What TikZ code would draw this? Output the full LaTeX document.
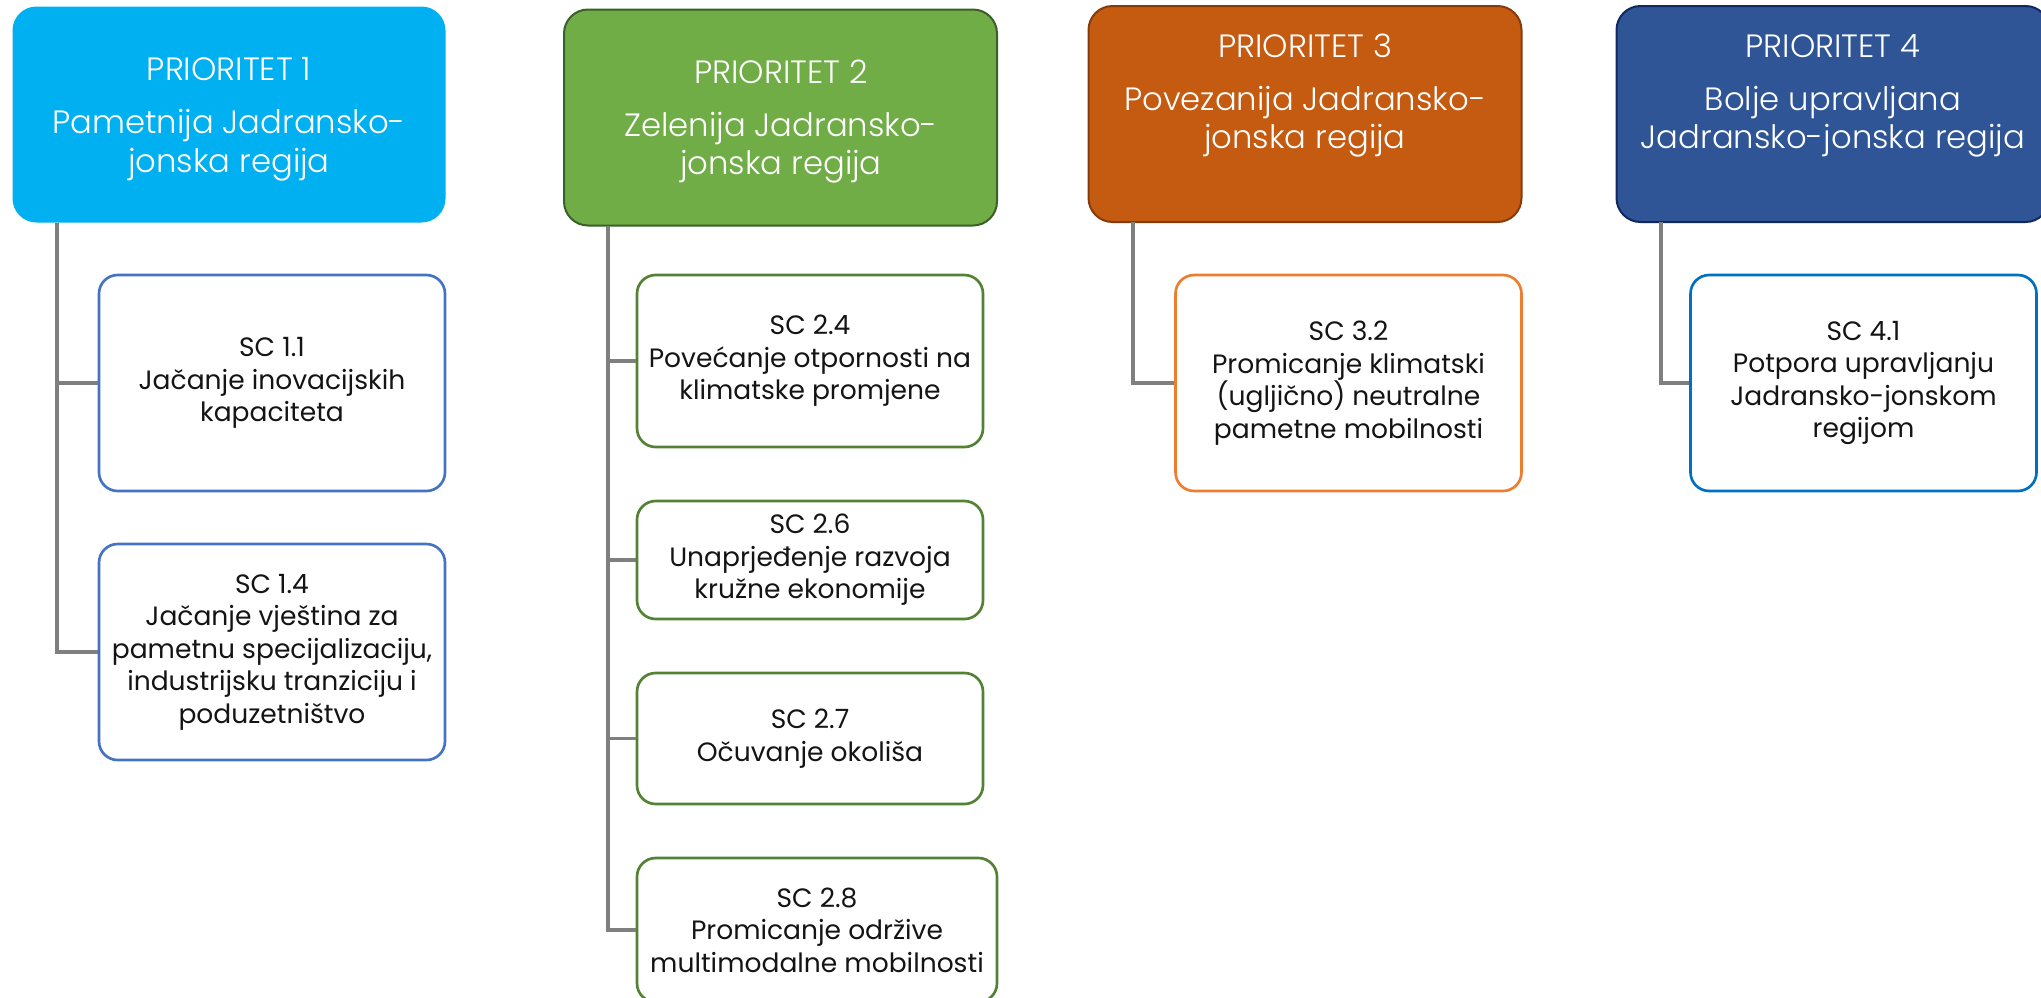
\documentclass[tikz,border=0pt]{standalone}
\usepackage{fontspec}
\setmainfont{Poppins}
\newfontfamily\titlefont{Poppins}[UprightFont=* Light]
\definecolor{pone}{HTML}{00B0F0}
\definecolor{ptwo}{HTML}{70AD47}
\definecolor{ptwoB}{HTML}{3A5F28}
\definecolor{pthree}{HTML}{C55A11}
\definecolor{pthreeB}{HTML}{843C0C}
\definecolor{pfour}{HTML}{2F5597}
\definecolor{pfourB}{HTML}{10275F}
\definecolor{sone}{HTML}{4472C4}
\definecolor{stwo}{HTML}{548235}
\definecolor{sthree}{HTML}{ED7D31}
\definecolor{sfour}{HTML}{0070C0}
\definecolor{conngray}{HTML}{7F7F7F}
\definecolor{txt}{HTML}{141414}
\begin{document}
\begin{tikzpicture}[x=0.75pt,y=-0.75pt,
  prio/.style={line width=1.5pt, rounded corners=18pt, minimum width=324.75pt, minimum height=162pt, inner sep=0pt},
  scbox/.style={draw, fill=white, line width=2pt, rounded corners=14pt, minimum width=259.5pt, inner sep=0pt, align=center, text=txt, font=\fontsize{19.9pt}{24.4pt}\selectfont},
  ttl/.style={anchor=base, text=white, inner sep=0pt, font=\titlefont\fontsize{24.2pt}{29pt}\selectfont},
  conn/.style={draw=conngray, line width=2.4pt}]
\useasboundingbox (0,0) rectangle (2041,997);

% priority boxes
\node[prio, fill=pone] (P1) at (229,114.5) {};
\node[prio, fill=ptwo, draw=ptwoB] (P2) at (780.5,117.5) {};
\node[prio, fill=pthree, draw=pthreeB] (P3) at (1305,114) {};
\node[prio, fill=pfour, draw=pfourB] (P4) at (1833,114) {};

% titles
\node[ttl] (t1a) at (229,80) {PRIORITET 1};
\node[ttl] (t1b) at (229,133) {Pametnija Jadransko-};
\node[ttl] (t1c) at (229,172) {jonska regija};
\node[ttl] (t2a) at (781,83) {PRIORITET 2};
\node[ttl] (t2b) at (781,136) {Zelenija Jadransko-};
\node[ttl] (t2c) at (781,174) {jonska regija};
\node[ttl] (t3a) at (1305,57) {PRIORITET 3};
\node[ttl] (t3b) at (1305,110) {Povezanija Jadransko-};
\node[ttl] (t3c) at (1305,148) {jonska regija};
\node[ttl] (t4a) at (1833,57) {PRIORITET 4};
\node[ttl] (t4b) at (1833,110) {Bolje upravljana};
\node[ttl] (t4c) at (1833,148) {Jadransko-jonska regija};

% specific objective boxes
\node[scbox, draw=sone, minimum height=162pt] (s11) at (272,383) {SC 1.1\\Jačanje inovacijskih\\kapaciteta};
\node[scbox, draw=sone, minimum height=162pt] (s14) at (272,652) {SC 1.4\\Jačanje vještina za\\pametnu specijalizaciju,\\industrijsku tranziciju i\\poduzetništvo};
\node[scbox, draw=stwo, minimum height=129pt] (s24) at (810,361) {SC 2.4\\Povećanje otpornosti na\\klimatske promjene};
\node[scbox, draw=stwo, minimum height=88.5pt] (s26) at (810,560) {SC 2.6\\Unaprjeđenje razvoja\\kružne ekonomije};
\node[scbox, draw=stwo, minimum height=98.25pt] (s27) at (810,738.5) {SC 2.7\\Očuvanje okoliša};
\node[scbox, draw=stwo, minimum height=108pt, minimum width=270pt] (s28) at (817,930) {SC 2.8\\Promicanje održive\\multimodalne mobilnosti};
\node[scbox, draw=sthree, minimum height=162pt] (s32) at (1348.5,383) {SC 3.2\\Promicanje klimatski\\(ugljično) neutralne\\pametne mobilnosti};
\node[scbox, draw=sfour, minimum height=162pt] (s41) at (1863.5,383) {SC 4.1\\Potpora upravljanju\\Jadransko-jonskom\\regijom};

% connectors
\coordinate (c1) at (57,223);
\coordinate (c2) at (608,226);
\coordinate (c3) at (1133,222);
\coordinate (c4) at (1661,222);
\draw[conn] (c1) |- (s11.west);
\draw[conn] (c1) |- (s14.west);
\draw[conn] (c2) |- (s24.west);
\draw[conn] (c2) |- (s26.west);
\draw[conn] (c2) |- (s27.west);
\draw[conn] (c2) |- (s28.west);
\draw[conn] (c3) |- (s32.west);
\draw[conn] (c4) |- (s41.west);
\end{tikzpicture}
\end{document}
